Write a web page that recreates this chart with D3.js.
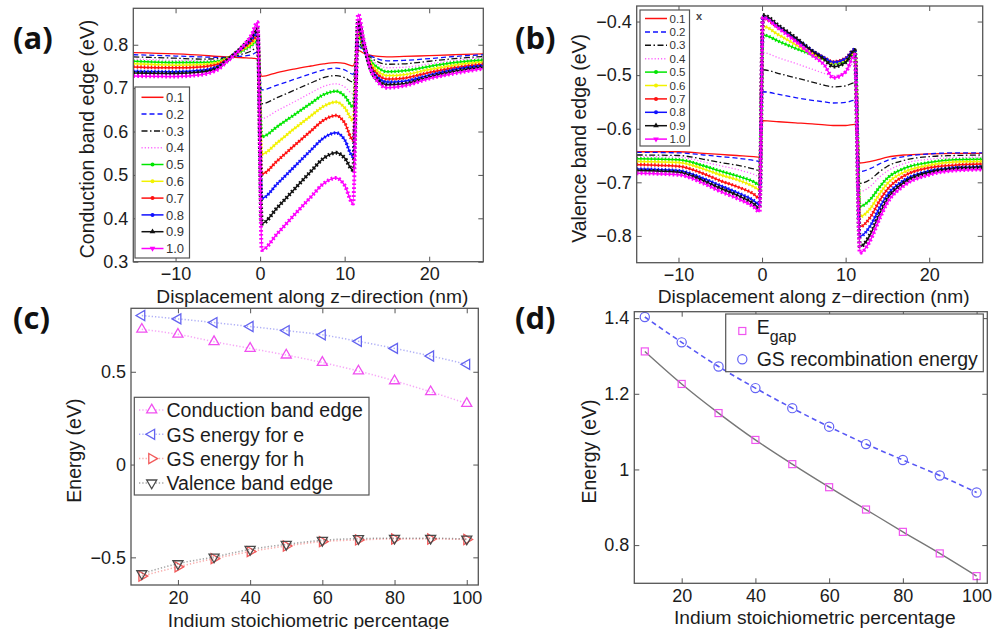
<!DOCTYPE html>
<html>
<head>
<meta charset="utf-8">
<script src="https://cdn.jsdelivr.net/npm/d3@7"></script>
<style>
  body { margin: 0; background: #fff; }
  svg { display: block; }
</style>
</head>
<body>
<svg id="fig" width="999" height="629"></svg>
<script>
// ---------- data ----------
const fracLabels = ["0.1", "0.2", "0.3", "0.4", "0.5", "0.6", "0.7", "0.8", "0.9", "1.0"];

// (a) conduction band edge profiles, one row per In fraction
const zA = [-15, -10, -7, -5, -4, -3, -2, -1, -0.3, 0.2, 2, 4, 6, 7.5, 9, 10, 11, 11.6, 12.2, 13, 14, 15, 17, 20, 23, 26.4];
const cbProfiles = [
  [.782,.779,.776,.773,.772,.771,.770,.769,.768, .727,.736,.744,.751,.756,.759,.757,.751, .787,.781,.776,.773,.772,.773,.775,.777,.779],
  [.777,.774,.772,.771,.771,.772,.774,.777,.783, .696,.707,.720,.733,.742,.746,.742,.732, .798,.786,.775,.767,.763,.764,.768,.773,.777],
  [.772,.769,.767,.768,.770,.774,.779,.786,.795, .664,.678,.695,.712,.724,.729,.724,.714, .806,.789,.772,.760,.755,.756,.762,.768,.773],
  [.767,.764,.763,.765,.769,.775,.783,.793,.802, .630,.648,.668,.689,.704,.710,.703,.687, .814,.792,.769,.754,.747,.748,.756,.764,.770],
  [.762,.759,.759,.762,.768,.777,.787,.799,.810, .588,.611,.638,.665,.685,.693,.682,.657, .821,.795,.765,.746,.738,.740,.750,.759,.765],
  [.756,.753,.754,.759,.767,.778,.790,.803,.816, .548,.574,.606,.636,.658,.668,.655,.626, .829,.798,.760,.738,.729,.731,.743,.753,.760],
  [.749,.747,.749,.755,.765,.779,.793,.808,.821, .502,.532,.567,.601,.626,.637,.620,.580, .837,.800,.755,.730,.721,.723,.736,.747,.755],
  [.739,.738,.741,.750,.763,.779,.795,.813,.829, .446,.479,.518,.557,.585,.597,.581,.542, .844,.802,.750,.723,.714,.716,.730,.743,.752],
  [.735,.734,.737,.747,.762,.779,.797,.818,.837, .388,.424,.466,.508,.538,.551,.539,.511, .856,.808,.748,.717,.708,.710,.726,.739,.749],
  [.728,.727,.731,.743,.760,.777,.797,.823,.852, .327,.364,.407,.449,.480,.493,.476,.434, .871,.815,.748,.713,.701,.705,.722,.734,.745]
];

// (b) valence band edge profiles
const zB = [-15, -10, -7, -5, -3, -1, -0.3, 0.1, 2, 4, 6, 7.5, 8.5, 10, 11.1, 11.7, 13, 14, 15, 17, 20, 23, 26.4];
const vbProfiles = [
  [-.643,-.643,-.646,-.648,-.650,-.652,-.653, -.585,-.587,-.589,-.591,-.593,-.594,-.594,-.592, -.664,-.661,-.657,-.653,-.649,-.647,-.646,-.646],
  [-.644,-.645,-.649,-.652,-.655,-.659,-.661, -.531,-.536,-.542,-.547,-.550,-.552,-.551,-.547, -.680,-.674,-.666,-.659,-.652,-.647,-.645,-.645],
  [-.649,-.650,-.657,-.663,-.668,-.675,-.678, -.490,-.497,-.505,-.513,-.519,-.522,-.520,-.514, -.702,-.694,-.681,-.670,-.659,-.652,-.650,-.649],
  [-.652,-.653,-.662,-.669,-.676,-.685,-.689, -.458,-.468,-.478,-.489,-.497,-.501,-.495,-.475, -.717,-.707,-.691,-.679,-.665,-.657,-.654,-.653],
  [-.656,-.658,-.669,-.679,-.688,-.699,-.705, -.425,-.437,-.450,-.462,-.472,-.479,-.475,-.459, -.745,-.731,-.710,-.692,-.674,-.663,-.658,-.657],
  [-.661,-.663,-.675,-.686,-.695,-.708,-.714, -.409,-.425,-.443,-.460,-.471,-.478,-.472,-.456, -.764,-.748,-.723,-.702,-.681,-.668,-.662,-.661],
  [-.667,-.670,-.684,-.697,-.708,-.722,-.730, -.394,-.412,-.434,-.455,-.468,-.475,-.468,-.452, -.783,-.764,-.736,-.713,-.688,-.673,-.668,-.666],
  [-.675,-.678,-.693,-.706,-.719,-.734,-.742, -.391,-.410,-.432,-.454,-.468,-.476,-.469,-.452, -.801,-.780,-.749,-.723,-.696,-.679,-.673,-.671],
  [-.678,-.681,-.697,-.711,-.724,-.740,-.748, -.388,-.408,-.430,-.455,-.471,-.484,-.476,-.453, -.820,-.796,-.761,-.731,-.700,-.681,-.674,-.672],
  [-.683,-.686,-.702,-.717,-.730,-.746,-.755, -.393,-.413,-.437,-.463,-.482,-.505,-.494,-.462, -.832,-.807,-.770,-.738,-.706,-.686,-.678,-.676]
];

// (c) and (d) versus indium percentage
const indium = [10, 20, 30, 40, 50, 60, 70, 80, 90, 100];
const cbEdge = [0.729, 0.702, 0.662, 0.626, 0.590, 0.550, 0.504, 0.451, 0.392, 0.329];
const gsElectron = [0.803, 0.785, 0.765, 0.744, 0.722, 0.699, 0.664, 0.626, 0.585, 0.540];
const gsHole = [-0.601, -0.551, -0.507, -0.469, -0.439, -0.415, -0.406, -0.401, -0.401, -0.404];
const vbEdge = [-0.588, -0.534, -0.498, -0.457, -0.430, -0.408, -0.399, -0.397, -0.397, -0.401];
const eGap = [1.312, 1.226, 1.149, 1.078, 1.014, 0.953, 0.894, 0.835, 0.778, 0.718];
const gsRecomb = [1.403, 1.336, 1.272, 1.215, 1.162, 1.113, 1.067, 1.025, 0.984, 0.939];
const cLegend = ["Conduction band edge", "GS energy for e", "GS energy for h", "Valence band edge"];

// tick values
const ticksZ = [-10, 0, 10, 20];
const ticksA = [0.3, 0.4, 0.5, 0.6, 0.7, 0.8];
const ticksB = [-0.8, -0.7, -0.6, -0.5, -0.4];
const ticksIn = [20, 40, 60, 80, 100];
const ticksC = [-0.5, 0, 0.5];
const ticksD = [0.8, 1, 1.2, 1.4];

// ---------- drawing ----------
const FONT = '"Liberation Sans", Arial, sans-serif';
const TXT = "#1c1c1c";
const AX = "#555";
const svg = d3.select("#fig");
svg.append("rect").attr("width", 999).attr("height", 629).attr("fill", "#fff");

// line styles for the 10 fractions in (a) and (b)
const seriesStyle = [
  { color: "#ff1010", dash: null, mark: null },
  { color: "#1010ff", dash: "5,3", mark: null },
  { color: "#111", dash: "6,2.5,1.5,2.5", mark: null },
  { color: "#ff66ff", dash: "1.2,2", mark: null },
  { color: "#00e600", dash: null, mark: "dot" },
  { color: "#f2f200", dash: null, mark: "dot" },
  { color: "#ff1010", dash: null, mark: "dot" },
  { color: "#1010ff", dash: null, mark: "dot" },
  { color: "#111", dash: null, mark: "up" },
  { color: "#ff00ff", dash: null, mark: "down" }
];

function makePanel(name, xDom, yDom, box, xTicks, yTicks) {
  const x = d3.scaleLinear().domain(xDom).range([box.l, box.r]);
  const y = d3.scaleLinear().domain(yDom).range([box.b, box.t]);
  const g = svg.append("g").attr("class", "panel-" + name);
  g.append("clipPath").attr("id", "clip-" + name).append("rect")
    .attr("x", box.l).attr("y", box.t)
    .attr("width", box.r - box.l).attr("height", box.b - box.t);
  const plot = g.append("g").attr("clip-path", `url(#clip-${name})`);
  return { x, y, g, plot, box, xTicks, yTicks };
}

function styleAxis(sel) {
  sel.attr("font-size", 18).attr("font-family", FONT);
  sel.select(".domain").remove();
  sel.selectAll("line").attr("stroke", AX).attr("stroke-width", 1);
  sel.selectAll("text").attr("fill", TXT);
}

function finishAxes(p) {
  const { x, y, g, box } = p;
  g.append("g").attr("transform", `translate(0,${box.b})`)
    .call(d3.axisBottom(x).tickValues(p.xTicks).tickFormat(d3.format("")).tickSizeInner(-5).tickSizeOuter(0).tickPadding(6))
    .call(styleAxis);
  g.append("g").attr("transform", `translate(0,${box.t})`)
    .call(d3.axisTop(x).tickValues(p.xTicks).tickFormat("").tickSizeInner(-5).tickSizeOuter(0))
    .call(styleAxis);
  g.append("g").attr("transform", `translate(${box.l},0)`)
    .call(d3.axisLeft(y).tickValues(p.yTicks).tickFormat(d3.format("")).tickSizeInner(-5).tickSizeOuter(0).tickPadding(5))
    .call(styleAxis);
  g.append("g").attr("transform", `translate(${box.r},0)`)
    .call(d3.axisRight(y).tickValues(p.yTicks).tickFormat("").tickSizeInner(-5).tickSizeOuter(0))
    .call(styleAxis);
  g.append("rect")
    .attr("x", box.l).attr("y", box.t)
    .attr("width", box.r - box.l).attr("height", box.b - box.t)
    .attr("fill", "none").attr("stroke", AX).attr("stroke-width", 1.3);
}

function axisTitles(p, xText, xBase, yText, yBase) {
  const { g, box } = p;
  g.append("text").attr("x", (box.l + box.r) / 2 + 4).attr("y", xBase)
    .attr("text-anchor", "middle").attr("font-family", FONT).attr("font-size", 19.2)
    .attr("fill", TXT).text(xText);
  g.append("text").attr("transform", `translate(${yBase},${(box.t + box.b) / 2 + 4}) rotate(-90)`)
    .attr("text-anchor", "middle").attr("font-family", FONT).attr("font-size", 19.5)
    .attr("fill", TXT).text(yText);
}

function panelLabel(text, x, y) {
  svg.append("text").attr("x", x).attr("y", y)
    .attr("font-family", '"Open Sans", "Noto Sans", sans-serif')
    .attr("font-weight", 700).attr("font-size", 31).attr("fill", "#111")
    .text(text);
}

// profile panel (a) / (b)
function drawProfiles(p, zs, profiles) {
  const line = d3.line().x(d => p.x(d[0])).y(d => p.y(d[1])).curve(d3.curveMonotoneX);
  profiles.forEach((vals, i) => {
    const st = seriesStyle[i];
    const pts = d3.zip(zs, vals);
    p.plot.append("path").attr("d", line(pts))
      .attr("fill", "none").attr("stroke", st.color)
      .attr("stroke-width", st.mark ? 1.5 : 1.3)
      .attr("stroke-dasharray", st.dash);
    if (st.mark) {
      // dense markers of the original rendered as a beaded overlay
      p.plot.append("path").attr("d", line(pts))
        .attr("fill", "none").attr("stroke", st.color)
        .attr("stroke-width", st.mark === "dot" ? 3.4 : 4)
        .attr("stroke-dasharray", st.mark === "dot" ? "1.4,2.1" : "1.7,2.3");
    }
  });
}

function drawProfileLegend(p, box, rowY, step, lineX0, lineX1, fs) {
  p.g.append("rect").attr("x", box.l).attr("y", box.t)
    .attr("width", box.r - box.l).attr("height", box.b - box.t)
    .attr("fill", "#fff").attr("stroke", AX).attr("stroke-width", 1.2);
  fracLabels.forEach((lab, i) => {
    const st = seriesStyle[i];
    const yy = rowY + i * step;
    p.g.append("line").attr("x1", lineX0).attr("x2", lineX1).attr("y1", yy).attr("y2", yy)
      .attr("stroke", st.color).attr("stroke-width", 1.5).attr("stroke-dasharray", st.dash);
    const mx = (lineX0 + lineX1) / 2;
    if (st.mark === "dot") {
      p.g.append("circle").attr("cx", mx).attr("cy", yy).attr("r", 2).attr("fill", st.color);
    } else if (st.mark) {
      p.g.append("path").attr("d", d3.symbol(d3.symbolTriangle, 14)())
        .attr("transform", `translate(${mx},${yy}) rotate(${st.mark === "down" ? 180 : 0})`)
        .attr("fill", st.color);
    }
    p.g.append("text").attr("x", lineX1 + 2.5).attr("y", yy).attr("dy", "0.36em")
      .attr("font-family", FONT).attr("font-size", fs).attr("fill", "#333").text(lab);
  });
}

// ---- (a) ----
const pa = makePanel("a", [-15, 26.4], [0.3, 0.884], { l: 133.3, r: 483.3, t: 8.3, b: 261.7 }, ticksZ, ticksA);
drawProfiles(pa, zA, cbProfiles);
finishAxes(pa);
drawProfileLegend(pa, { l: 135, r: 189.5, t: 87, b: 258 }, 97.3, 16.8, 141.5, 163.5, 13);
axisTitles(pa, "Displacement along z\u2212direction (nm)", 302.5, "Conduction band edge (eV)", 94);
panelLabel("(a)", 13, 49);

// ---- (b) ----
const pb = makePanel("b", [-15, 26.4], [-0.85, -0.371], { l: 636.7, r: 982.7, t: 6, b: 262.7 }, ticksZ, ticksB);
drawProfiles(pb, zB, vbProfiles);
finishAxes(pb);
drawProfileLegend(pb, { l: 640, r: 689.5, t: 10, b: 146 }, 18.5, 13.4, 645, 667, 11.5);
pb.g.append("text").attr("x", 699).attr("y", 20).attr("text-anchor", "middle")
  .attr("font-family", FONT).attr("font-size", 11).attr("font-weight", 700).attr("fill", "#444").text("x");
axisTitles(pb, "Displacement along z\u2212direction (nm)", 303, "Valence band edge (eV)", 586);
panelLabel("(b)", 515, 49);

// ---- (c) ----
const pc = makePanel("c", [7, 103.2], [-0.649, 0.842], { l: 131, r: 478.3, t: 308.3, b: 585 }, ticksIn, ticksC);
const cStyle = [
  { color: "#f050f0", rot: 0 },
  { color: "#6464f0", rot: -90 },
  { color: "#f25a5a", rot: 90 },
  { color: "#4a4a4a", rot: 180 }
];
const cVals = [cbEdge, gsElectron, gsHole, vbEdge];
const lineC = d3.line().x(d => pc.x(d[0])).y(d => pc.y(d[1])).curve(d3.curveMonotoneX);
const tri = d3.symbol(d3.symbolTriangle, 44)();
cVals.forEach((vals, i) => {
  const st = cStyle[i];
  const pts = d3.zip(indium, vals);
  pc.plot.append("path").attr("d", lineC(pts)).attr("fill", "none")
    .attr("stroke", st.color).attr("stroke-opacity", 0.5).attr("stroke-width", 1.5)
    .attr("stroke-dasharray", "1.3,2");
  pc.plot.selectAll(null).data(pts).join("path")
    .attr("d", tri)
    .attr("transform", d => `translate(${pc.x(d[0])},${pc.y(d[1])}) rotate(${st.rot})`)
    .attr("fill", "none").attr("stroke", st.color).attr("stroke-width", 1.3);
});
finishAxes(pc);
pc.g.append("rect").attr("x", 134.3).attr("y", 397.3).attr("width", 234.7).attr("height", 97.7)
  .attr("fill", "#fff").attr("stroke", AX).attr("stroke-width", 1.2);
cLegend.forEach((lab, i) => {
  const st = cStyle[i];
  const yy = 410 + i * 24.3;
  pc.g.append("line").attr("x1", 139).attr("x2", 164).attr("y1", yy).attr("y2", yy)
    .attr("stroke", st.color).attr("stroke-opacity", 0.5).attr("stroke-width", 1.5).attr("stroke-dasharray", "1.3,2");
  pc.g.append("path").attr("d", tri).attr("transform", `translate(151.7,${yy}) rotate(${st.rot})`)
    .attr("fill", "#fff").attr("stroke", st.color).attr("stroke-width", 1.3);
  pc.g.append("text").attr("x", 166.5).attr("y", yy + 7.3)
    .attr("font-family", FONT).attr("font-size", 19.5).attr("fill", TXT).text(lab);
});
axisTitles(pc, "Indium stoichiometric percentage", 626.5, "Energy (eV)", 81);
panelLabel("(c)", 13, 329);

// ---- (d) ----
const pd = makePanel("d", [7.15, 102.9], [0.699, 1.417], { l: 634.3, r: 987.3, t: 311.7, b: 583.3 }, ticksIn, ticksD);
const lineD = d3.line().x(d => pd.x(d[0])).y(d => pd.y(d[1])).curve(d3.curveMonotoneX);
const gapPts = d3.zip(indium, eGap);
const recPts = d3.zip(indium, gsRecomb);
pd.plot.append("path").attr("d", lineD(gapPts)).attr("fill", "none")
  .attr("stroke", "#777").attr("stroke-width", 1.4);
pd.plot.append("path").attr("d", lineD(recPts)).attr("fill", "none")
  .attr("stroke", "#5858f5").attr("stroke-width", 1.6).attr("stroke-dasharray", "5,3.5");
pd.plot.selectAll(null).data(gapPts).join("rect")
  .attr("x", d => pd.x(d[0]) - 3.5).attr("y", d => pd.y(d[1]) - 3.5)
  .attr("width", 7).attr("height", 7)
  .attr("fill", "none").attr("stroke", "#f055f0").attr("stroke-width", 1.2);
pd.plot.selectAll(null).data(recPts).join("circle")
  .attr("cx", d => pd.x(d[0])).attr("cy", d => pd.y(d[1])).attr("r", 4.6)
  .attr("fill", "none").attr("stroke", "#6464f5").attr("stroke-width", 1.2);
finishAxes(pd);
pd.g.append("rect").attr("x", 725.7).attr("y", 314).attr("width", 257.6).attr("height", 57.7)
  .attr("fill", "#fff").attr("stroke", AX).attr("stroke-width", 1.2);
pd.g.append("rect").attr("x", 738.8).attr("y", 327.5).attr("width", 7).attr("height", 7)
  .attr("fill", "none").attr("stroke", "#f055f0").attr("stroke-width", 1.2);
pd.g.append("circle").attr("cx", 742.3).attr("cy", 359.3).attr("r", 4.6)
  .attr("fill", "none").attr("stroke", "#6464f5").attr("stroke-width", 1.2);
const eg = pd.g.append("text").attr("x", 756.7).attr("y", 333.5)
  .attr("font-family", FONT).attr("font-size", 19.5).attr("fill", TXT);
eg.append("tspan").text("E");
eg.append("tspan").attr("dy", 8).attr("font-size", 16).text("gap");
pd.g.append("text").attr("x", 756.7).attr("y", 366)
  .attr("font-family", FONT).attr("font-size", 19.5).attr("fill", TXT).text("GS recombination energy");
axisTitles(pd, "Indium stoichiometric percentage", 624, "Energy (eV)", 596);
panelLabel("(d)", 515, 329);
</script>
</body>
</html>
